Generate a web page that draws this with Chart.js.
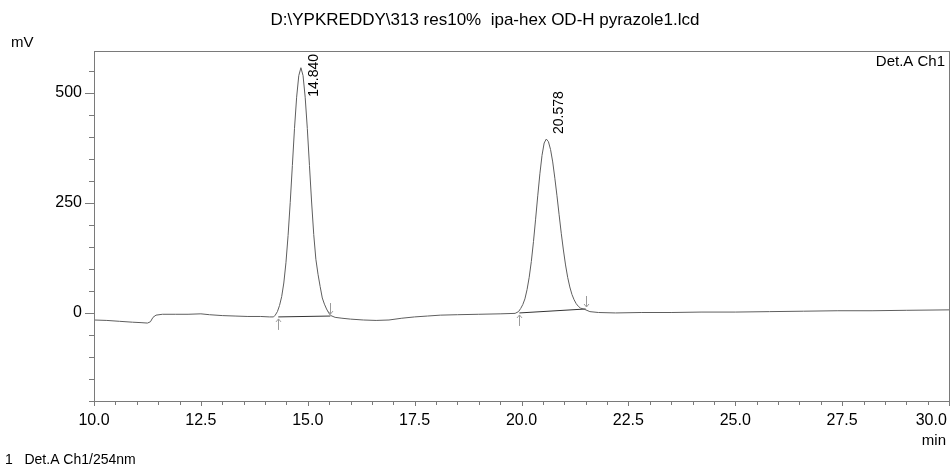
<!DOCTYPE html>
<html>
<head>
<meta charset="utf-8">
<script src="https://cdn.jsdelivr.net/npm/chart.js@4.4.1/dist/chart.umd.min.js"></script>
<style>
  html, body { margin: 0; padding: 0; background: #fff; }
  #wrap { width: 951px; height: 469px; }
</style>
</head>
<body>
<div id="wrap"><canvas id="chrom" width="951" height="469"></canvas></div>
<script>
// ─── Data ─────────────────────────────────────────────────────────────────────
const timeMin = [
  10.0, 10.3, 10.6, 10.9, 11.1, 11.25, 11.32, 11.38, 11.45, 11.6, 11.9, 12.2, 12.5, 12.7, 13.0, 13.3, 13.6, 13.9, 14.1, 14.2,
  14.24, 14.29, 14.34, 14.39, 14.44, 14.49, 14.54, 14.59, 14.64, 14.69, 14.74, 14.79, 14.84, 14.89, 14.94, 14.99, 15.04,
  15.09, 15.14, 15.19, 15.24, 15.29, 15.34, 15.39, 15.44, 15.49, 15.54, 15.64, 15.8, 16.0, 16.3, 16.6, 16.9, 17.2, 17.5,
  17.8, 18.1, 18.5, 19.0, 19.5, 19.85, 19.93, 19.98, 20.03, 20.08, 20.13, 20.18, 20.23, 20.28, 20.33, 20.38, 20.43, 20.48,
  20.53, 20.58, 20.63, 20.68, 20.73, 20.78, 20.83, 20.88, 20.93, 20.98, 21.03, 21.08, 21.13, 21.18, 21.23, 21.28, 21.33,
  21.38, 21.48, 21.6, 21.8, 22.2, 22.8, 23.5, 24.2, 25.0, 25.8, 26.6, 27.4, 28.2, 29.0, 30.0
];
const signalMv = [
  -16, -17, -19, -21, -22, -23, -20, -10, -5, -3, -3, -3, -2, -4, -6, -7, -8, -8, -9, -9,
  -5, 3, 17, 37, 68, 114, 176, 251, 335, 419, 490, 539, 557, 539, 490, 419, 335,
  252, 178, 122, 88, 60, 34, 20, 9, 0, -6, -10, -12, -14, -16, -17, -16, -12, -9,
  -7, -5, -4, -3, -2, -1, 3, 10, 19, 32, 53, 81, 117, 162, 213, 266, 316, 358,
  386, 395, 389, 371, 343, 306, 266, 223, 181, 143, 109, 81, 59, 42, 30, 21, 15,
  11, 8, 3, 1, 0, 1, 1, 2, 2, 3, 4, 5, 5, 6, 7
];

const peakTimes  = [14.840, 20.578];
const peakMv     = [557, 395];
const peakLabels = ['14.840', '20.578'];
const peakStartT = [14.31, 19.95];
const peakStartMv = [-9, 0];
const peakEndT   = [15.53, 21.50];
const peakEndMv  = [-7, 9];

const xLabelTicks = [10, 12.5, 15, 17.5, 20, 22.5, 25, 27.5, 30];
const yLabelTicks = [0, 250, 500];
const xMinorStep = 0.5;
const yMinorStep = 50;

const titleText  = 'D:\\YPKREDDY\\313 res10%  ipa-hex OD-H pyrazole1.lcd';
const legendText = '1   Det.A Ch1/254nm';

// ─── Styles ────────────────────────────────────────────────────────────────────
const FONT = '"Liberation Sans", Arial, sans-serif';
const FRAME = '#7a7a7a';
const TRACE = '#5e5e5e';

// ─── Decorations: frame, ticks, peak marks, loose texts ────────────────────────
const decor = {
  id: 'decor',
  afterDatasetsDraw(chart) {
    const { ctx, chartArea: a, scales: { x, y } } = chart;
    ctx.save();

    // frame
    ctx.strokeStyle = FRAME;
    ctx.lineWidth = 1;
    ctx.strokeRect(Math.round(a.left) + 0.5, Math.round(a.top) + 0.5,
      Math.round(a.right - a.left), Math.round(a.bottom - a.top));

    // y ticks (outside, left)
    ctx.beginPath();
    for (let v = y.min - (y.min % yMinorStep); v <= y.max; v += yMinorStep) {
      if (v < y.min) continue;
      const py = Math.round(y.getPixelForValue(v)) + 0.5;
      const len = yLabelTicks.includes(v) ? 9 : 5;
      ctx.moveTo(a.left, py);
      ctx.lineTo(a.left - len, py);
    }
    // x ticks (outside, down)
    for (let v = x.min; v <= x.max + 1e-6; v += xMinorStep) {
      const px = Math.round(x.getPixelForValue(v)) + 0.5;
      const len = xLabelTicks.some(t => Math.abs(t - v) < 1e-6) ? 5 : 4;
      ctx.moveTo(px, a.bottom);
      ctx.lineTo(px, a.bottom + len);
    }
    ctx.stroke();

    // start/end arrows for each peak
    ctx.strokeStyle = '#9a9a9a';
    peakTimes.forEach((t, i) => {
      const sx = Math.round(x.getPixelForValue(peakStartT[i])) + 0.5;
      const sy = y.getPixelForValue(peakStartMv[i]);
      ctx.beginPath();
      ctx.moveTo(sx, sy + 2); ctx.lineTo(sx, sy + 13);
      ctx.moveTo(sx - 2.5, sy + 5); ctx.lineTo(sx, sy + 2); ctx.lineTo(sx + 2.5, sy + 5);
      ctx.stroke();

      const ex = Math.round(x.getPixelForValue(peakEndT[i])) + 0.5;
      const ey = y.getPixelForValue(peakEndMv[i]);
      ctx.beginPath();
      ctx.moveTo(ex, ey - 2); ctx.lineTo(ex, ey - 13);
      ctx.moveTo(ex - 2.5, ey - 5); ctx.lineTo(ex, ey - 2); ctx.lineTo(ex + 2.5, ey - 5);
      ctx.stroke();
    });

    // peak retention time labels, rotated
    ctx.fillStyle = '#000';
    ctx.font = '14px ' + FONT;
    ctx.textAlign = 'left';
    ctx.textBaseline = 'middle';
    peakTimes.forEach((t, i) => {
      const px = x.getPixelForValue(t) + 13;
      const w = ctx.measureText(peakLabels[i]).width;
      const py = Math.max(y.getPixelForValue(peakMv[i]) - 5, a.top + 3 + w);
      ctx.save();
      ctx.translate(px, py);
      ctx.rotate(-Math.PI / 2);
      ctx.fillText(peakLabels[i], 0, 0);
      ctx.restore();
    });

    // texts round the plot
    ctx.font = '17px ' + FONT;
    ctx.textAlign = 'center';
    ctx.fillText(titleText, 485, 20);
    ctx.font = '15px ' + FONT;
    ctx.textAlign = 'left';
    ctx.fillText('mV', 11, 43);
    ctx.font = '14px ' + FONT;
    ctx.fillText(legendText, 5, 460);
    ctx.textAlign = 'right';
    ctx.font = '15px ' + FONT;
    ctx.fillText('Det.A Ch1', 945, 62);
    ctx.fillText('min', 946, 441);

    ctx.restore();
  }
};

// ─── Chart ─────────────────────────────────────────────────────────────────────
new Chart(document.getElementById('chrom'), {
  type: 'line',
  data: {
    datasets: [
      {
        data: timeMin.map((t, i) => ({ x: t, y: signalMv[i] })),
        borderColor: TRACE,
        borderWidth: 1,
        pointRadius: 0,
        tension: 0
      },
      ...peakTimes.map((t, i) => ({
        data: [{ x: peakStartT[i], y: peakStartMv[i] }, { x: peakEndT[i], y: peakEndMv[i] }],
        borderColor: '#333',
        borderWidth: 1,
        pointRadius: 0
      }))
    ]
  },
  options: {
    responsive: false,
    animation: false,
    devicePixelRatio: 1,
    layout: { padding: { top: 51, right: 2, left: 0, bottom: 0 } },
    plugins: { legend: { display: false }, tooltip: { enabled: false } },
    scales: {
      x: {
        type: 'linear',
        min: 10, max: 30,
        grid: { display: false, drawTicks: false },
        border: { display: false },
        afterBuildTicks: s => { s.ticks = xLabelTicks.map(v => ({ value: v })); },
        afterFit: s => { s.height = 68; s.paddingLeft = 0; s.paddingRight = 0; },
        ticks: {
          color: '#000',
          font: { family: FONT, size: 16 },
          padding: 10,
          maxRotation: 0,
          autoSkip: false,
          // last label is pulled left so it stays inside the window
          callback: v => v === 30 ? Number(v).toFixed(1) + '        ' : Number(v).toFixed(1)
        }
      },
      y: {
        min: -200, max: 595,
        grid: { display: false, drawTicks: false },
        border: { display: false },
        afterBuildTicks: s => { s.ticks = yLabelTicks.map(v => ({ value: v })); },
        afterFit: s => { s.width = 94; },
        ticks: {
          color: '#000',
          font: { family: FONT, size: 16 },
          padding: 12
        }
      }
    }
  },
  plugins: [decor]
});
</script>
</body>
</html>
